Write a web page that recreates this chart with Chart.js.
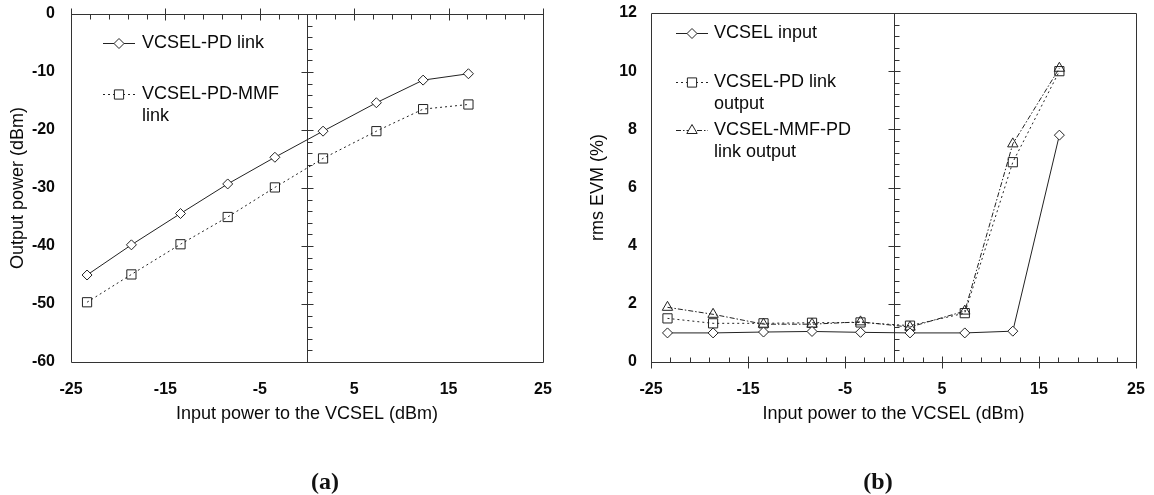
<!DOCTYPE html>
<html><head><meta charset="utf-8">
<script src="https://cdn.jsdelivr.net/npm/chart.js@4/dist/chart.umd.min.js"></script>
<style>
html,body{margin:0;padding:0;background:#fff;width:1154px;height:495px;overflow:hidden;}
canvas{position:absolute;top:0;}
#cA{left:0px}
#cB{left:560px}
.cap{position:absolute;top:481px;font-family:'Liberation Serif','Times New Roman',serif;font-weight:bold;font-size:24px;color:#111;transform:translate(-50%,-50%);line-height:1;}
</style></head><body>
<canvas id="cA" width="560" height="495"></canvas>
<canvas id="cB" width="594" height="495"></canvas>
<div class="cap" style="left:325px">(a)</div>
<div class="cap" style="left:878px">(b)</div>
<script>
// ---- data ----
const inputPower = [-23.3, -18.6, -13.4, -8.4, -3.4, 1.7, 7.35, 12.3, 17.1];
const outPdLink = [-45.0, -39.8, -34.4, -29.3, -24.7, -20.2, -15.3, -11.4, -10.3];
const outPdMmfLink = [-49.7, -44.9, -39.7, -35.0, -29.9, -24.9, -20.2, -16.4, -15.6];
const evmVcselInput = [1.0, 1.0, 1.03, 1.05, 1.02, 1.0, 1.0, 1.06, 7.8];
const evmPdLinkOutput = [1.5, 1.33, 1.33, 1.35, 1.36, 1.25, 1.68, 6.87, 10.0];
const evmMmfPdLinkOutput = [1.88, 1.64, 1.3, 1.3, 1.38, 1.2, 1.75, 7.5, 10.1];
const xTickValues = [-25, -15, -5, 5, 15, 25];
const leftYTickValues = [0, -10, -20, -30, -40, -50, -60];
const rightYTickValues = [0, 2, 4, 6, 8, 10, 12];
const leftLegendLabels = [['VCSEL-PD link'], ['VCSEL-PD-MMF', 'link']];
const rightLegendLabels = [['VCSEL input'], ['VCSEL-PD link', 'output'], ['VCSEL-MMF-PD', 'link output']];
const xTitle = 'Input power to the VCSEL (dBm)';
const leftYTitle = 'Output power (dBm)';
const rightYTitle = 'rms EVM (%)';

const FONT = '"Liberation Sans", Arial, sans-serif';
const INK = '#222';
const TXT = '#0a0a0a';

function pts(ys) { return inputPower.map((x, i) => ({ x: x, y: ys[i] })); }

function drawMarker(ctx, style, x, y, r) {
  ctx.beginPath();
  if (style === 'rectRot') {
    ctx.moveTo(x - r, y); ctx.lineTo(x, y - r); ctx.lineTo(x + r, y); ctx.lineTo(x, y + r); ctx.closePath();
  } else if (style === 'rect') {
    const s = r * Math.SQRT1_2; ctx.rect(x - s, y - s, 2 * s, 2 * s);
  } else {
    const a = Math.PI * 2 / 3;
    ctx.moveTo(x, y - r);
    ctx.lineTo(x + Math.sin(a) * r, y - Math.cos(a) * r);
    ctx.lineTo(x + Math.sin(2 * a) * r, y - Math.cos(2 * a) * r);
    ctx.closePath();
  }
  ctx.fillStyle = '#fff'; ctx.fill();
  ctx.strokeStyle = INK; ctx.lineWidth = 1; ctx.stroke();
}

const framePlugin = {
  id: 'frame',
  beforeDatasetsDraw(chart, args, o) {
    const { ctx, chartArea: a } = chart;
    const x = chart.scales.x, y = chart.scales.y;
    ctx.save();
    ctx.strokeStyle = '#333'; ctx.lineWidth = 1; ctx.setLineDash([]);
    const L = Math.round(a.left) + 0.5, R = Math.round(a.right) + 0.5, T = Math.round(a.top) + 0.5, B = Math.round(a.bottom) + 0.5;
    ctx.beginPath(); ctx.rect(L, T, R - L, B - T);
    const ey = o.xEdge === 'top' ? T : B;
    const dir = o.xEdge === 'top' ? 1 : -1;
    const nx = Math.round((x.max - x.min) / o.xMinor);
    for (let i = 0; i <= nx; i++) {
      const v = x.min + i * o.xMinor;
      const px = Math.round(x.getPixelForValue(v)) + 0.5;
      const q = (v - x.min) / o.xMajor;
      if (Math.abs(q - Math.round(q)) < 1e-6) { ctx.moveTo(px, ey - 6); ctx.lineTo(px, ey + 6); }
      else { ctx.moveTo(px, ey); ctx.lineTo(px, ey + dir * 5); }
    }
    const cx = Math.round(x.getPixelForValue(0)) + 0.5;
    ctx.moveTo(cx, T); ctx.lineTo(cx, B);
    const ny = Math.round((y.max - y.min) / o.yMinor);
    for (let i = 0; i <= ny; i++) {
      const v = y.min + i * o.yMinor;
      const py = Math.round(y.getPixelForValue(v)) + 0.5;
      const q = (v - y.min) / o.yMajor;
      if (Math.abs(q - Math.round(q)) < 1e-6) { ctx.moveTo(cx - 6, py); ctx.lineTo(cx + 6, py); }
      else { ctx.moveTo(cx, py); ctx.lineTo(cx + 5, py); }
    }
    ctx.stroke();
    ctx.restore();
  }
};

const legendPlugin = {
  id: 'sketchLegend',
  afterDatasetsDraw(chart, args, o) {
    const { ctx, chartArea: a } = chart;
    ctx.save();
    ctx.font = '18px ' + FONT;
    ctx.textBaseline = 'middle';
    chart.data.datasets.forEach((ds, i) => {
      const y = Math.round(a.top + o.rows[i]) + 0.5;
      const x0 = a.left + o.sampleX, x1 = x0 + o.sampleW;
      ctx.strokeStyle = INK; ctx.lineWidth = 1; ctx.setLineDash(ds.borderDash || []);
      ctx.beginPath(); ctx.moveTo(x0, y); ctx.lineTo(x1, y); ctx.stroke();
      ctx.setLineDash([]);
      drawMarker(ctx, ds.pointStyle, (x0 + x1) / 2, y, ds.pointRadius);
      ctx.fillStyle = TXT;
      o.labels[i].forEach((t, k) => ctx.fillText(t, a.left + o.textX, y + k * o.lineH));
    });
    ctx.restore();
  }
};

function ds(label, ys, style, r, dash, fill) {
  return {
    label: label, data: pts(ys), borderColor: INK, borderWidth: 1, borderDash: dash,
    pointStyle: style, pointRadius: r, pointHoverRadius: r, pointBorderColor: INK, pointBorderWidth: 1,
    pointBackgroundColor: fill, tension: 0, fill: false, clip: false
  };
}

function makeChart(id, cfg) {
  return new Chart(document.getElementById(id), {
    type: 'line',
    data: { datasets: cfg.datasets },
    plugins: [framePlugin, legendPlugin],
    options: {
      responsive: false, animation: false, devicePixelRatio: 1,
      layout: { padding: cfg.padding },
      plugins: {
        legend: { display: false }, tooltip: { enabled: false },
        frame: cfg.frame, sketchLegend: cfg.legend
      },
      scales: {
        x: {
          type: 'linear', min: -25, max: 25,
          afterBuildTicks: s => { s.ticks = xTickValues.map(v => ({ value: v })); },
          afterFit: s => { s.height = 133; s.paddingLeft = 0; s.paddingRight = 0; },
          grid: { display: false, drawTicks: false }, border: { display: false },
          ticks: { padding: 18, font: { family: FONT, size: 16, weight: 'bold' }, color: TXT, maxRotation: 0, autoSkip: false },
          title: { display: true, text: xTitle, font: { family: FONT, size: 18 }, color: TXT, padding: { top: 0, bottom: 70 } }
        },
        y: {
          type: 'linear', min: cfg.yMin, max: cfg.yMax,
          afterBuildTicks: s => { s.ticks = cfg.yTicks.map(v => ({ value: v })); },
          afterFit: s => { s.width = cfg.yWidth; s.paddingTop = 0; s.paddingBottom = 0; },
          grid: { display: false, drawTicks: false }, border: { display: false },
          ticks: { padding: cfg.yTickPad, font: { family: FONT, size: 16, weight: 'bold' }, color: TXT },
          title: { display: true, text: cfg.yTitle, font: { family: FONT, size: 18 }, color: TXT, padding: { top: cfg.yTitlePad, bottom: 0 } }
        }
      }
    }
  });
}

makeChart('cA', {
  datasets: [
    ds(leftLegendLabels[0].join(' '), outPdLink, 'rectRot', 5, [], '#fff'),
    ds(leftLegendLabels[1].join(' '), outPdMmfLink, 'rect', 6.5, [2, 3], 'rgba(255,255,255,0)')
  ],
  padding: { left: 0, right: 17, top: 14, bottom: 0 },
  yMin: -60, yMax: 0, yTicks: leftYTickValues, yWidth: 71, yTickPad: 16, yTitle: leftYTitle, yTitlePad: 7,
  frame: { xEdge: 'top', xMajor: 10, xMinor: 2, yMajor: 10, yMinor: 2 },
  legend: { labels: leftLegendLabels, sampleX: 32, sampleW: 32, textX: 71, rows: [29, 80], lineH: 22 }
});

makeChart('cB', {
  datasets: [
    ds(rightLegendLabels[0].join(' '), evmVcselInput, 'rectRot', 5, [], '#fff'),
    ds(rightLegendLabels[1].join(' '), evmPdLinkOutput, 'rect', 6.5, [2, 3], 'rgba(255,255,255,0)'),
    ds(rightLegendLabels[2].join(' '), evmMmfPdLinkOutput, 'triangle', 6, [5, 2, 1.5, 2], 'rgba(255,255,255,0)')
  ],
  padding: { left: 0, right: 18, top: 13, bottom: 0 },
  yMin: 0, yMax: 12, yTicks: rightYTickValues, yWidth: 91, yTickPad: 14, yTitle: rightYTitle, yTitlePad: 27,
  frame: { xEdge: 'bottom', xMajor: 10, xMinor: 2, yMajor: 2, yMinor: 0.4 },
  legend: { labels: rightLegendLabels, sampleX: 25, sampleW: 32, textX: 63, rows: [20, 69, 117], lineH: 22 }
});
</script>
</body></html>
